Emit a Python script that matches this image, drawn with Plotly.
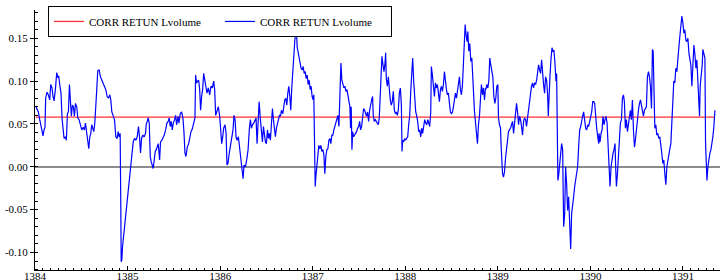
import plotly.graph_objects as go

# ---- data ----
series_name = "CORR RETUN Lvolume"
mean_level = 0.058

years = [
1384.007,1384.022,1384.036,1384.051,1384.069,1384.087,1384.097,1384.108,1384.115,1384.130,
1384.144,1384.159,1384.170,1384.184,1384.195,1384.206,1384.220,1384.235,1384.245,1384.256,
1384.267,1384.281,1384.292,1384.303,1384.314,1384.328,1384.339,1384.350,1384.361,1384.372,
1384.382,1384.393,1384.404,1384.415,1384.426,1384.437,1384.451,1384.462,1384.476,1384.491,
1384.505,1384.520,1384.534,1384.545,1384.556,1384.570,1384.581,1384.592,1384.603,1384.613,
1384.624,1384.635,1384.646,1384.657,1384.667,1384.678,1384.693,1384.707,1384.722,1384.736,
1384.750,1384.765,1384.779,1384.794,1384.808,1384.819,1384.830,1384.844,1384.859,1384.873,
1384.888,1384.898,1384.909,1384.920,1384.924,1384.927,1384.931,1384.938,1384.945,1384.960,
1384.974,1384.989,1385.003,1385.017,1385.032,1385.046,1385.061,1385.075,1385.090,1385.104,
1385.118,1385.129,1385.140,1385.151,1385.165,1385.180,1385.194,
1385.201,1385.212,1385.223,1385.234,1385.245,1385.255,1385.266,1385.277,1385.288,1385.299,
1385.310,1385.320,1385.331,1385.346,1385.356,1385.371,1385.382,1385.396,1385.411,1385.425,
1385.439,1385.450,1385.461,1385.472,1385.483,1385.494,1385.508,1385.519,1385.530,1385.544,
1385.555,1385.569,1385.584,1385.598,1385.609,1385.620,1385.631,1385.645,1385.660,1385.670,
1385.685,1385.699,1385.714,1385.728,1385.735,1385.746,1385.757,1385.768,1385.779,1385.789,
1385.800,1385.811,1385.822,1385.833,1385.844,1385.858,1385.872,1385.887,1385.901,1385.916,
1385.930,1385.941,1385.952,1385.966,1385.981,1385.995,1386.006,1386.017,1386.028,1386.038,
1386.053,1386.064,1386.074,1386.085,1386.096,1386.111,1386.125,1386.139,1386.150,1386.161,
1386.172,1386.183,1386.197,1386.212,1386.226,1386.237,1386.248,1386.258,1386.273,1386.287,
1386.302,1386.316,1386.327,1386.338,1386.349,1386.363,1386.377,1386.388,1386.399,1386.410,
1386.421,
1386.435,1386.446,1386.457,1386.468,1386.478,1386.489,1386.500,1386.511,1386.522,1386.532,
1386.543,1386.554,1386.565,1386.576,1386.587,1386.597,1386.608,1386.619,1386.630,1386.641,
1386.652,1386.662,1386.677,1386.688,1386.698,1386.709,1386.720,1386.731,1386.742,1386.753,
1386.763,1386.774,1386.785,1386.796,1386.807,1386.818,1386.825,1386.832,1386.843,1386.854,
1386.864,1386.875,1386.886,1386.897,1386.908,1386.919,1386.929,1386.940,1386.951,1386.962,
1386.973,1386.983,1386.994,1387.005,1387.012,1387.020,1387.027,1387.034,1387.045,1387.056,
1387.066,1387.077,1387.088,1387.099,1387.110,1387.121,1387.131,1387.142,1387.153,1387.164,
1387.175,1387.186,1387.196,1387.207,1387.218,1387.229,1387.240,1387.250,1387.261,1387.272,
1387.283,1387.294,1387.305,1387.315,1387.326,1387.337,1387.348,1387.359,1387.370,1387.380,
1387.391,1387.402,1387.409,1387.416,1387.424,1387.431,1387.442,1387.453,1387.463,1387.474,
1387.485,1387.496,1387.507,1387.517,1387.528,1387.539,1387.550,1387.561,1387.572,1387.582,
1387.593,1387.604,1387.615,1387.626,1387.637,
1387.647,1387.654,1387.665,1387.676,1387.687,1387.698,1387.709,1387.719,1387.730,1387.741,
1387.748,1387.759,1387.770,1387.781,1387.788,1387.795,1387.806,1387.817,1387.828,1387.838,
1387.849,1387.860,1387.871,1387.882,1387.893,1387.903,1387.914,1387.925,1387.936,1387.947,
1387.958,1387.965,1387.972,1387.983,1387.994,1388.004,1388.015,1388.026,1388.037,1388.048,
1388.059,1388.069,1388.080,1388.091,1388.102,1388.113,1388.124,1388.134,1388.145,1388.156,
1388.167,1388.178,1388.188,1388.199,1388.210,1388.221,1388.232,1388.243,1388.253,1388.264,
1388.275,1388.282,1388.293,1388.304,1388.315,1388.326,1388.336,1388.347,1388.358,1388.369,
1388.380,1388.391,1388.401,1388.412,1388.423,1388.434,1388.445,1388.455,1388.466,1388.477,
1388.488,1388.499,1388.510,1388.520,1388.531,1388.542,1388.553,1388.564,1388.575,1388.585,
1388.596,1388.607,1388.618,1388.629,1388.639,1388.647,1388.657,1388.668,1388.676,1388.686,
1388.697,1388.708,1388.719,1388.726,1388.737,1388.748,1388.759,1388.769,1388.780,1388.791,
1388.802,1388.813,1388.823,1388.834,1388.845,1388.856,1388.867,
1388.870,1388.881,1388.892,1388.903,1388.913,1388.924,1388.935,1388.946,1388.957,1388.968,
1388.978,1388.989,1389.000,1389.007,1389.018,1389.029,1389.036,1389.043,1389.051,1389.061,
1389.072,1389.083,1389.094,1389.105,1389.115,1389.126,1389.137,1389.148,1389.159,1389.170,
1389.180,1389.191,1389.202,1389.213,1389.224,1389.235,1389.245,1389.256,1389.267,1389.278,
1389.289,1389.300,1389.310,1389.321,1389.332,1389.343,1389.354,1389.364,1389.375,1389.386,
1389.397,1389.408,1389.419,1389.429,1389.440,1389.451,1389.462,1389.473,1389.483,1389.494,
1389.505,1389.516,1389.527,1389.538,1389.545,1389.552,1389.563,1389.574,1389.585,1389.595,
1389.606,1389.617,1389.628,1389.635,1389.642,1389.649,1389.657,1389.668,1389.678,1389.689,
1389.700,1389.711,1389.722,1389.732,1389.743,1389.754,1389.765,1389.776,1389.787,1389.797,
1389.808,1389.819,1389.830,1389.841,1389.852,1389.862,1389.873,1389.884,1389.895,1389.906,
1389.916,1389.927,1389.938,1389.949,1389.960,1389.971,1389.981,1389.992,1390.003,1390.014,
1390.025,1390.036,1390.046,1390.057,1390.068,1390.079,1390.090,
1390.093,1390.104,1390.115,1390.126,1390.136,1390.147,1390.158,1390.169,1390.180,1390.191,
1390.201,1390.212,1390.223,1390.234,1390.245,1390.255,1390.266,1390.274,1390.281,1390.292,
1390.302,1390.313,1390.324,1390.335,1390.346,1390.357,1390.367,1390.378,1390.389,1390.400,
1390.411,1390.421,1390.432,1390.443,1390.454,1390.465,1390.476,1390.486,1390.497,1390.508,
1390.519,1390.530,1390.541,1390.551,1390.562,1390.573,1390.584,1390.595,1390.605,1390.616,
1390.627,1390.638,1390.649,1390.660,1390.670,1390.678,1390.685,1390.696,1390.707,1390.717,
1390.728,1390.739,1390.750,1390.761,1390.771,1390.782,1390.793,1390.804,1390.815,1390.826,
1390.836,1390.847,1390.858,1390.869,1390.880,1390.891,1390.901,1390.912,1390.923,1390.934,
1390.945,1390.956,1390.966,1390.977,1390.988,1390.999,1391.010,1391.020,1391.031,1391.042,
1391.053,1391.064,1391.075,1391.085,1391.096,1391.107,1391.118,1391.129,1391.140,1391.150,
1391.161,1391.172,1391.179,1391.186,1391.197,1391.208,1391.215,1391.226,1391.237,1391.244,
1391.251,1391.259,1391.269,1391.280,1391.291,1391.302,1391.313,1391.323,1391.334,1391.345,
]

corr = [
0.071,0.068,0.064,0.055,0.045,0.036,0.043,0.046,0.080,0.087,
0.084,0.078,0.096,0.092,0.082,0.077,0.090,0.110,0.105,0.106,
0.096,0.086,0.057,0.045,0.033,0.035,0.031,0.062,0.064,0.096,
0.078,0.059,0.072,0.070,0.059,0.074,0.070,0.057,0.055,0.049,
0.043,0.046,0.043,0.051,0.041,0.031,0.021,0.035,0.039,0.049,
0.045,0.041,0.051,0.082,0.090,0.112,0.113,0.105,0.101,0.098,
0.094,0.090,0.082,0.080,0.084,0.078,0.064,0.059,0.055,0.035,
0.033,0.041,0.035,0.039,0.008,-0.047,-0.111,-0.109,-0.094,-0.078,
-0.062,-0.047,-0.027,-0.016,0.000,0.016,0.029,0.033,0.031,0.035,
0.047,0.035,0.016,0.033,0.037,0.035,0.039,
0.049,0.055,0.057,0.051,0.012,0.006,0.001,-0.002,0.008,0.018,
0.020,0.023,0.027,0.008,0.029,0.031,0.033,0.037,0.043,0.051,
0.053,0.057,0.047,0.053,0.043,0.051,0.055,0.060,0.049,0.059,
0.051,0.062,0.064,0.057,0.041,0.016,0.012,0.023,0.027,0.033,
0.041,0.044,0.051,0.057,0.107,0.098,0.100,0.101,0.090,0.066,
0.082,0.090,0.109,0.103,0.094,0.086,0.092,0.084,0.094,0.092,
0.100,0.090,0.060,0.066,0.070,0.059,0.039,0.027,0.035,0.045,
0.049,0.039,0.002,0.004,0.014,0.023,0.031,0.043,0.060,0.055,
0.035,0.031,0.035,0.020,0.004,0.000,-0.014,0.002,0.000,0.008,
0.020,0.045,0.055,0.045,0.049,0.051,0.055,0.057,0.027,0.051,
0.076,
0.055,0.043,0.029,0.047,0.039,0.029,0.027,0.043,0.033,0.039,
0.031,0.051,0.068,0.055,0.043,0.035,0.045,0.051,0.055,0.060,
0.059,0.066,0.062,0.072,0.078,0.080,0.072,0.086,0.094,0.082,
0.066,0.092,0.113,0.133,0.148,0.156,0.158,0.140,0.133,0.125,
0.121,0.115,0.113,0.117,0.109,0.111,0.103,0.107,0.096,0.101,
0.090,0.094,0.082,0.078,0.084,0.016,-0.023,-0.012,0.004,0.016,
0.025,0.021,0.025,0.018,0.020,0.014,-0.008,0.012,0.020,0.021,
0.031,0.033,0.027,0.037,0.037,0.043,0.047,0.051,0.055,0.060,
0.047,0.086,0.121,0.101,0.096,0.092,0.094,0.088,0.090,0.082,
0.074,0.070,0.045,0.070,0.020,0.041,0.035,0.037,0.039,0.041,
0.045,0.047,0.053,0.043,0.047,0.055,0.068,0.066,0.060,0.059,
0.064,0.053,0.066,0.074,0.078,
0.082,0.060,0.053,0.055,0.053,0.051,0.049,0.057,0.084,0.107,
0.129,0.119,0.111,0.121,0.133,0.103,0.094,0.105,0.088,0.078,
0.072,0.076,0.088,0.066,0.062,0.064,0.060,0.066,0.086,0.092,
0.072,0.018,0.031,0.029,0.033,0.031,0.033,0.035,0.049,0.060,
0.088,0.103,0.127,0.100,0.072,0.064,0.059,0.053,0.041,0.043,
0.035,0.045,0.039,0.047,0.055,0.051,0.049,0.055,0.049,0.047,
0.064,0.117,0.107,0.094,0.082,0.098,0.092,0.096,0.088,0.076,
0.090,0.094,0.088,0.096,0.111,0.096,0.090,0.084,0.086,0.074,
0.064,0.062,0.064,0.070,0.080,0.086,0.080,0.088,0.092,0.105,
0.090,0.084,0.096,0.119,0.146,0.166,0.154,0.146,0.158,0.135,
0.144,0.123,0.127,0.100,0.088,0.064,0.049,0.037,0.027,0.049,
0.060,0.080,0.096,0.084,0.092,0.078,0.092,
0.090,0.096,0.092,0.101,0.127,0.119,0.113,0.105,0.082,0.074,
0.080,0.094,0.096,0.057,0.049,0.045,0.023,0.008,-0.008,-0.012,
-0.006,0.010,0.021,0.033,0.041,0.043,0.045,0.049,0.053,0.039,
0.053,0.060,0.074,0.064,0.049,0.059,0.055,0.047,0.037,0.053,
0.057,0.055,0.047,0.057,0.068,0.076,0.090,0.094,0.098,0.092,
0.098,0.096,0.101,0.111,0.119,0.113,0.109,0.125,0.107,0.096,
0.086,0.105,0.101,0.084,0.059,0.086,0.105,0.125,0.139,0.135,
0.136,0.121,0.100,0.109,0.031,-0.016,-0.010,0.004,0.014,0.027,
0.020,-0.070,-0.055,0.000,-0.020,-0.051,-0.035,-0.062,-0.096,-0.055,
-0.047,-0.035,-0.023,-0.016,-0.008,0.000,0.023,0.043,0.047,0.055,
0.059,0.064,0.055,0.045,0.043,0.049,0.047,0.053,0.057,0.064,
0.076,0.076,0.074,0.055,0.045,0.035,0.027,
0.039,0.029,0.039,0.043,0.059,0.049,0.055,0.059,0.051,0.020,
-0.012,-0.023,0.000,0.012,0.016,0.020,0.027,-0.004,-0.023,-0.008,
0.012,0.035,0.051,0.055,0.080,0.084,0.076,0.045,0.055,0.041,
0.049,0.059,0.066,0.055,0.078,0.043,0.023,0.031,0.045,0.051,
0.066,0.074,0.078,0.072,0.064,0.059,0.066,0.068,0.070,0.105,
0.111,0.105,0.094,0.068,0.137,0.135,0.101,0.045,0.049,0.037,
0.039,0.033,0.035,0.027,0.016,0.004,0.008,-0.008,-0.021,0.000,
0.008,0.014,0.021,0.027,0.055,0.082,0.100,0.098,0.115,0.111,
0.133,0.140,0.152,0.162,0.176,0.168,0.156,0.160,0.148,0.146,
0.150,0.133,0.123,0.119,0.094,0.117,0.142,0.131,0.115,0.125,
0.105,0.076,0.059,0.094,0.105,0.119,0.137,0.133,0.127,0.027,
0.008,-0.016,0.000,0.012,0.016,0.020,0.027,0.035,0.047,0.066,
]

x_ticks = [1384, 1385, 1386, 1387, 1388, 1389, 1390, 1391]
y_ticks = [-0.10, -0.05, 0.00, 0.05, 0.10, 0.15]
y_tick_text = ["-0.10", "-0.05", "0.00", "0.05", "0.10", "0.15"]

FONT = "Liberation Serif"

fig = go.Figure()
fig.add_trace(go.Scatter(
    x=[years[0], years[-1]], y=[mean_level, mean_level],
    mode="lines", name=series_name,
    line=dict(color="#ff3030", width=1.3),
))
fig.add_trace(go.Scatter(
    x=years, y=corr, mode="lines", name=series_name,
    line=dict(color="#0000ff", width=1.2),
))

fig.update_layout(
    width=722, height=280,
    margin=dict(l=35, r=2, t=10, b=10),
    paper_bgcolor="white", plot_bgcolor="white",
    font=dict(family=FONT, size=11, color="black"),
    showlegend=True,
    legend=dict(
        orientation="h", x=0.019, y=0.956, xanchor="left", yanchor="middle",
        bordercolor="black", borderwidth=1, bgcolor="white",
        font=dict(family=FONT, size=11, color="black"),
        itemwidth=30, entrywidth=126, entrywidthmode="pixels",
    ),
    xaxis=dict(
        range=[1384, 1391.4], tickvals=x_ticks, ticktext=[str(v) for v in x_ticks],
        showgrid=False, zeroline=False, showline=True, linecolor="black", linewidth=1,
        ticks="inside", ticklen=4, tickcolor="black",
        minor=dict(dtick=1/12, tick0=1384, ticks="inside", ticklen=2, tickcolor="black"),
        tickfont=dict(family=FONT, size=11), automargin=False,
        ticklabelstandoff=-4,
    ),
    yaxis=dict(
        range=[-0.1205, 0.183], tickvals=y_ticks, ticktext=y_tick_text,
        showgrid=False, zeroline=True, zerolinecolor="#8c8c8c", zerolinewidth=1.5,
        showline=True, linecolor="black", linewidth=1,
        ticks="outside", ticklen=4, tickcolor="black",
        minor=dict(dtick=0.01, tick0=0, ticks="inside", ticklen=3, tickcolor="black"),
        tickfont=dict(family=FONT, size=11), automargin=False,
    ),
)

# remove the browser's default 8px body margin so the figure fills the window
fig.write_html(
    "out.html",
    config={"displayModeBar": False},
    post_script="document.body.style.margin='0px';",
)
